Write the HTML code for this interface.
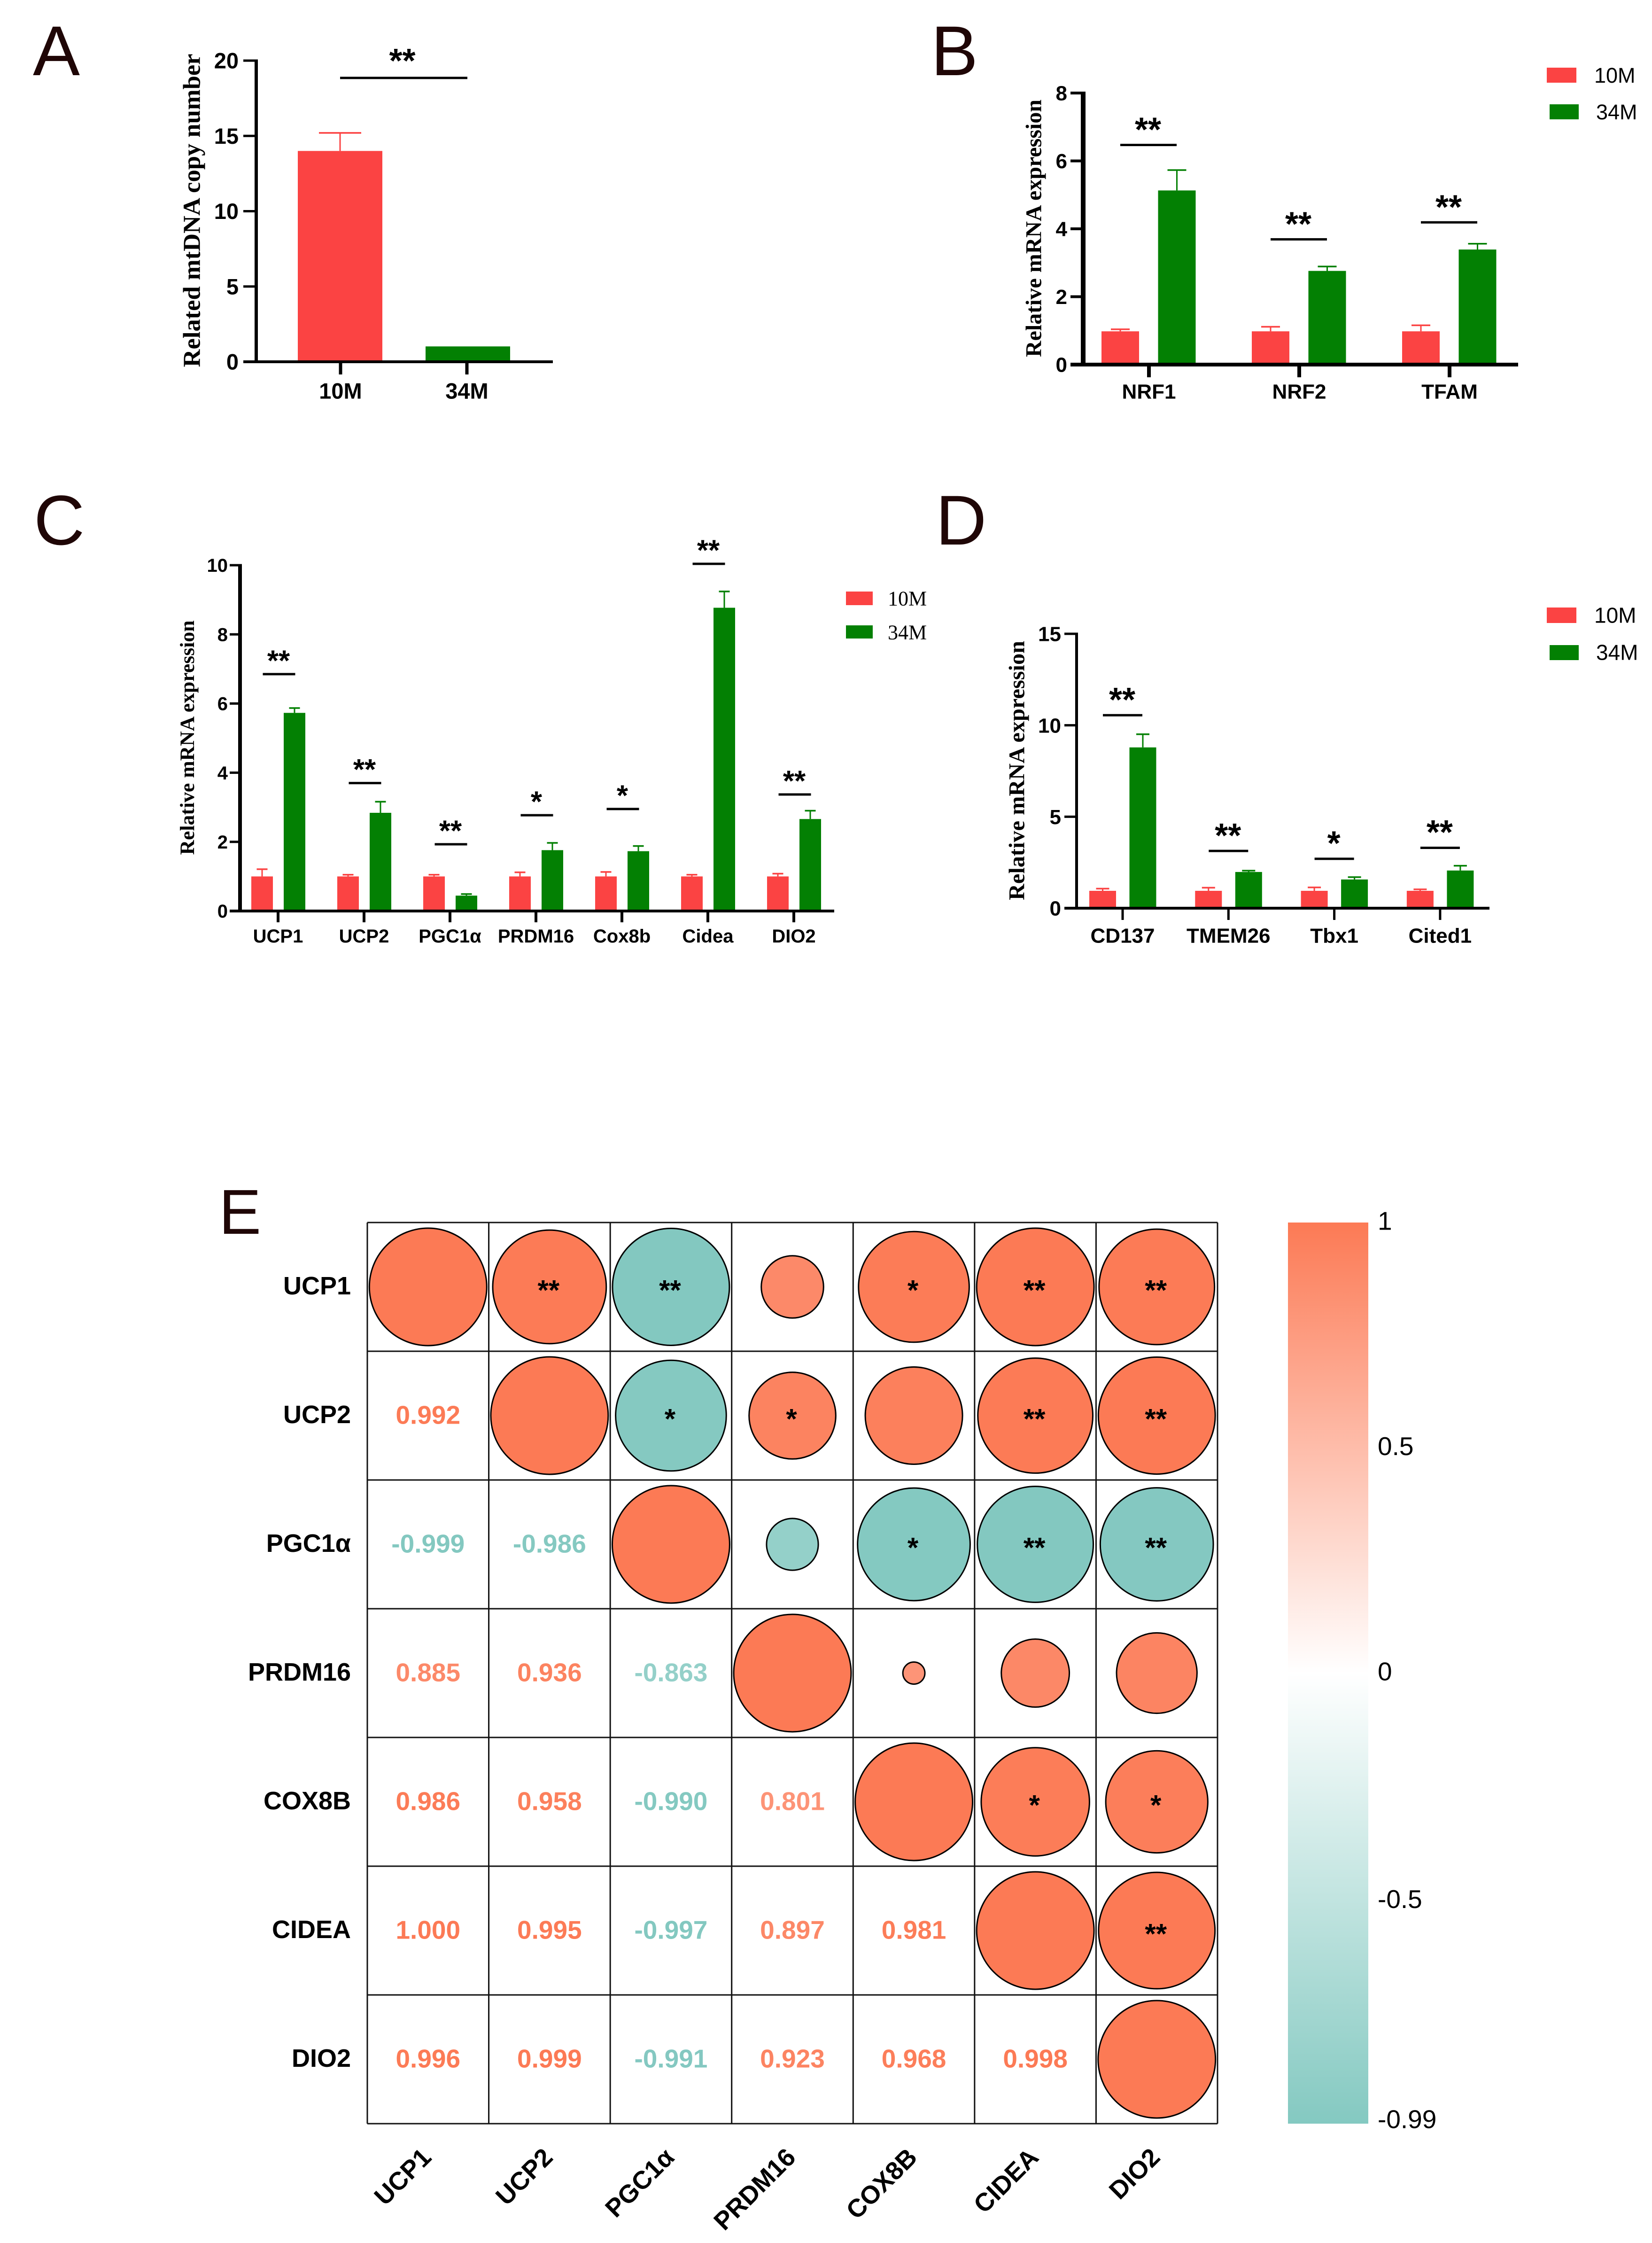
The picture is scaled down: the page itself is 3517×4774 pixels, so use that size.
<!DOCTYPE html>
<html lang="en">
<head>
<meta charset="utf-8">
<title>Panels A-E: mRNA expression and correlation matrix</title>
<style>
html,body{margin:0;padding:0;background:#fff;}
svg{display:block;}
text{font-family:"Liberation Sans",sans-serif;}
</style>
</head>
<body>
<svg id="figure" xmlns="http://www.w3.org/2000/svg" width="3517" height="4774" viewBox="0 0 3517 4774"></svg>
<script>
// ---------- Panel A data ----------
const aCategories = ['10M', '34M'];
const aRedValues = [14.0, null];
const aRedTops = [15.2, null];
const aGreenValues = [null, 1.02];
const aGreenTops = [null, null];
const aYTicks = [0, 5, 10, 15, 20];
const aSigLevels = [18.85];
const aSigPositions = [0.5];
const aSigMarks = ['**'];

// ---------- Panel B data ----------
const bCategories = ['NRF1', 'NRF2', 'TFAM'];
const bRedValues = [0.98, 0.98, 0.98];
const bRedTops = [1.04, 1.115, 1.157];
const bGreenValues = [5.13, 2.76, 3.39];
const bGreenTops = [5.73, 2.89, 3.56];
const bYTicks = [0, 2, 4, 6, 8];
const bSigLevels = [6.47, 3.69, 4.19];
const bSigPositions = [0, 1, 2];
const bSigMarks = ['**', '**', '**'];

// ---------- Panel C data ----------
const cCategories = ['UCP1', 'UCP2', 'PGC1α', 'PRDM16', 'Cox8b', 'Cidea', 'DIO2'];
const cRedValues = [1, 1, 1, 1, 1, 1, 1];
const cRedTops = [1.21, 1.05, 1.05, 1.12, 1.13, 1.05, 1.08];
const cGreenValues = [5.73, 2.84, 0.445, 1.76, 1.73, 8.77, 2.66];
const cGreenTops = [5.87, 3.16, 0.49, 1.97, 1.88, 9.24, 2.9];
const cYTicks = [0, 2, 4, 6, 8, 10];
const cSigLevels = [6.85, 3.70, 1.93, 2.77, 2.95, 10.04, 3.37];
const cSigPositions = [0, 1, 2, 3, 4, 5, 6];
const cSigMarks = ['**', '**', '**', '*', '*', '**', '**'];

// ---------- Panel D data ----------
const dCategories = ['CD137', 'TMEM26', 'Tbx1', 'Cited1'];
const dRedValues = [0.95, 0.95, 0.95, 0.95];
const dRedTops = [1.07, 1.12, 1.135, 1.03];
const dGreenValues = [8.79, 1.98, 1.57, 2.06];
const dGreenTops = [9.51, 2.05, 1.70, 2.32];
const dYTicks = [0, 5, 10, 15];
const dSigLevels = [10.55, 3.13, 2.70, 3.30];
const dSigPositions = [0, 1, 2, 3];
const dSigMarks = ['**', '**', '*', '**'];

const legendLabels = ['10M', '34M'];

// ---------- Panel E data ----------
const corrLabels = ['UCP1', 'UCP2', 'PGC1α', 'PRDM16', 'COX8B', 'CIDEA', 'DIO2'];
const corrRow1 = [1];
const corrRow2 = [0.992, 1];
const corrRow3 = [-0.999, -0.986, 1];
const corrRow4 = [0.885, 0.936, -0.863, 1];
const corrRow5 = [0.986, 0.958, -0.990, 0.801, 1];
const corrRow6 = [1.000, 0.995, -0.997, 0.897, 0.981, 1];
const corrRow7 = [0.996, 0.999, -0.991, 0.923, 0.968, 0.998, 1];
const corrRows = [corrRow1, corrRow2, corrRow3, corrRow4, corrRow5, corrRow6, corrRow7];
const starRow1 = ['', '**', '**', '', '*', '**', '**'];
const starRow2 = ['', '', '*', '*', '', '**', '**'];
const starRow3 = ['', '', '', '', '*', '**', '**'];
const starRow4 = ['', '', '', '', '', '', ''];
const starRow5 = ['', '', '', '', '', '*', '*'];
const starRow6 = ['', '', '', '', '', '', '**'];
const starRow7 = ['', '', '', '', '', '', ''];
const starRows = [starRow1, starRow2, starRow3, starRow4, starRow5, starRow6, starRow7];
const colorbarTicks = [1, 0.5, 0, -0.5, -0.99];

// ---------- helpers ----------
const NS = 'http://www.w3.org/2000/svg';
const root = document.getElementById('figure');
const RED = '#FB4343';
const GREEN = '#038003';

function slug(s) {
  return String(s).toLowerCase().replace(/α/g, 'a').replace(/[^a-z0-9]+/g, '-').replace(/^-|-$/g, '');
}
function mk(tag, name, attrs, parent) {
  const el = document.createElementNS(NS, tag);
  
  
  for (const k in attrs) { el.setAttribute(k, attrs[k]); }
  (parent || root).appendChild(el);
  return el;
}
function rect(name, x1, y1, x2, y2, fill, parent) {
  return mk('rect', name, {x: x1, y: y1, width: x2 - x1, height: y2 - y1, fill: fill}, parent);
}
function label(name, str, x, yc, size, opts, parent) {
  const o = opts || {};
  const attrs = {
    x: x,
    y: yc + size * 0.355,
    'font-size': size,
    'font-weight': o.weight || 'bold',
    'text-anchor': o.anchor || 'middle',
    fill: o.fill || '#000'
  };
  if (o.family) { attrs['style'] = 'font-family:' + o.family; }
  const t = mk('text', name, attrs, parent);
  t.textContent = str;
  return t;
}
function stars(name, str, xc, yc, size, parent) {
  const t = mk('text', name, {
    x: xc, y: yc + size * 0.46, 'font-size': size, 'font-weight': 'bold',
    'text-anchor': 'middle', fill: '#000'
  }, parent);
  t.textContent = str;
  return t;
}
function panelLetter(str, x, y, size) {
  const t = mk('text', 'panel-letter-' + slug(str), {
    x: x, y: y, 'font-size': size, fill: '#1f0606'
  });
  t.textContent = str;
}

function drawBarPanel(cfg) {
  const g = mk('g', 'panel-' + cfg.id, {});
  const yScale = v => cfg.zeroY - v * (cfg.zeroY - cfg.topY) / cfg.yMax;
  const xScale = i => cfg.firstX + i * cfg.stepX;

  // bars and error bars
  const series = [
    {key: 'red', color: RED, values: cfg.redValues, tops: cfg.redTops, offset: cfg.offsets[0]},
    {key: 'green', color: GREEN, values: cfg.greenValues, tops: cfg.greenTops, offset: cfg.offsets[1]}
  ];
  series.forEach(s => {
    s.values.forEach((v, i) => {
      if (v === null) { return; }
      const cx = xScale(i) + s.offset;
      const catName = slug(cfg.categories[i]);
      rect('bar-' + catName + '-' + s.key, cx - cfg.barW / 2, yScale(v), cx + cfg.barW / 2, cfg.zeroY, s.color, g);
      const top = s.tops[i];
      if (top !== null) {
        mk('line', 'error-stem-' + catName + '-' + s.key, {
          x1: cx, x2: cx, y1: yScale(v), y2: yScale(top), stroke: s.color, 'stroke-width': 3
        }, g);
        mk('line', 'error-cap-' + catName + '-' + s.key, {
          x1: cx - cfg.capW / 2, x2: cx + cfg.capW / 2, y1: yScale(top), y2: yScale(top), stroke: s.color, 'stroke-width': 3.5
        }, g);
      }
    });
  });

  // axes
  rect('y-axis-line', cfg.axisX - cfg.yAxisW / 2, cfg.topY - cfg.tickT / 2, cfg.axisX + cfg.yAxisW / 2, cfg.zeroY, '#000', g);
  rect('x-axis-line', cfg.tickLeft, cfg.zeroY - cfg.xAxisT / 2, cfg.axisEnd, cfg.zeroY + cfg.xAxisT / 2, '#000', g);
  cfg.yTicks.forEach(v => {
    const y = yScale(v);
    rect('y-tick-' + v, cfg.tickLeft, y - cfg.tickT / 2, cfg.axisX, y + cfg.tickT / 2, '#000', g);
    label('y-tick-label-' + v, String(v), cfg.yLabelRight, y, cfg.tickFont, {anchor: 'end'}, g);
  });
  cfg.categories.forEach((c, i) => {
    const x = xScale(i);
    rect('x-tick-' + slug(c), x - cfg.xTickW / 2, cfg.zeroY, x + cfg.xTickW / 2, cfg.xTickBottom, '#000', g);
    label('x-tick-label-' + slug(c), c, x, cfg.xLabelY, cfg.catFont, {}, g);
  });

  // y-axis title
  const tx = cfg.titleX + cfg.titleFont * 0.3;
  const ty = cfg.titleY;
  const title = mk('text', 'y-axis-title', {
    x: 0, y: 0, transform: 'translate(' + tx + ',' + ty + ') rotate(-90)',
    'font-size': cfg.titleFont, 'font-weight': 'bold', 'text-anchor': 'middle', fill: '#000',
    textLength: cfg.titleLen, lengthAdjust: 'spacingAndGlyphs',
    style: 'font-family:"Liberation Serif",serif'
  }, g);
  title.textContent = cfg.title;

  // significance brackets
  cfg.sigLevels.forEach((v, i) => {
    const cx = xScale(cfg.sigPositions[i]) + cfg.sigShift;
    const y = yScale(v);
    rect('significance-line-' + (i + 1), cx - cfg.sigHalf, y - 2.5, cx + cfg.sigHalf, y + 2.5, '#000', g);
    stars('significance-mark-' + (i + 1), cfg.sigMarks[i], cx + cfg.starShift, y - cfg.starOffset, cfg.starFont, g);
  });

  // legend
  if (cfg.legend) {
    const L = cfg.legend;
    const labelAttrs = {anchor: 'start', weight: 'normal', family: L.family};
    rect('legend-swatch-10m', L.redX[0], L.redY[0], L.redX[1], L.redY[1], RED, g);
    label('legend-label-10m', legendLabels[0], L.textX[0], L.textY[0], L.font, labelAttrs, g);
    rect('legend-swatch-34m', L.greenX[0], L.greenY[0], L.greenX[1], L.greenY[1], GREEN, g);
    label('legend-label-34m', legendLabels[1], L.textX[1], L.textY[1], L.font, labelAttrs, g);
  }
}

// ---------- draw panels ----------
panelLetter('A', 70, 160, 150);
drawBarPanel({
  id: 'a', categories: aCategories, redValues: aRedValues, redTops: aRedTops,
  greenValues: aGreenValues, greenTops: aGreenTops, yTicks: aYTicks, yMax: 20,
  sigLevels: aSigLevels, sigPositions: aSigPositions, sigMarks: aSigMarks,
  zeroY: 770, topY: 129, firstX: 725, stepX: 269, offsets: [-1, 2], barW: 180, capW: 90,
  axisX: 545.5, yAxisW: 7, xAxisT: 6, tickT: 5, tickLeft: 518, axisEnd: 1177,
  xTickW: 7, xTickBottom: 797, xLabelY: 832, yLabelRight: 508, tickFont: 47, catFont: 47,
  title: 'Related mtDNA copy number', titleX: 410, titleY: 448, titleFont: 52, titleLen: 667,
  sigHalf: 135.5, sigShift: 0, starOffset: 45, starShift: -3, starFont: 72
});

panelLetter('B', 1982, 160, 150);
drawBarPanel({
  id: 'b', categories: bCategories, redValues: bRedValues, redTops: bRedTops,
  greenValues: bGreenValues, greenTops: bGreenTops, yTicks: bYTicks, yMax: 8,
  sigLevels: bSigLevels, sigPositions: bSigPositions, sigMarks: bSigMarks,
  zeroY: 776, topY: 198, firstX: 2446, stepX: 320, offsets: [-61, 59.5], barW: 80, capW: 40,
  axisX: 2306, yAxisW: 10, xAxisT: 8, tickT: 6, tickLeft: 2279, axisEnd: 3232,
  xTickW: 8, xTickBottom: 803, xLabelY: 833, yLabelRight: 2272, tickFont: 44, catFont: 44,
  title: 'Relative mRNA expression', titleX: 2202, titleY: 486, titleFont: 48, titleLen: 548,
  sigHalf: 60, sigShift: -1, starOffset: 41, starShift: -1, starFont: 72,
  legend: {redX: [3293, 3356], redY: [144, 176], greenX: [3299, 3361], greenY: [222, 254],
           textX: [3394, 3398], textY: [160, 238], font: 45, family: '"Liberation Sans",sans-serif'}
});

panelLetter('C', 72, 1159, 150);
drawBarPanel({
  id: 'c', categories: cCategories, redValues: cRedValues, redTops: cRedTops,
  greenValues: cGreenValues, greenTops: cGreenTops, yTicks: cYTicks, yMax: 10,
  sigLevels: cSigLevels, sigPositions: cSigPositions, sigMarks: cSigMarks,
  zeroY: 1939, topY: 1203, firstX: 592, stepX: 183, offsets: [-34, 35], barW: 46, capW: 23,
  axisX: 511, yAxisW: 8, xAxisT: 6, tickT: 5, tickLeft: 489, axisEnd: 1776,
  xTickW: 6, xTickBottom: 1963, xLabelY: 1992, yLabelRight: 485, tickFont: 40, catFont: 40,
  title: 'Relative mRNA expression', titleX: 400, titleY: 1570, titleFont: 43.4, titleLen: 499,
  sigHalf: 34.5, sigShift: 2, starOffset: 36, starShift: -1, starFont: 62,
  legend: {redX: [1801, 1858], redY: [1259, 1288], greenX: [1801, 1858], greenY: [1331, 1359],
           textX: [1890, 1890], textY: [1273, 1345], font: 44, family: '"Liberation Serif",serif'}
});

panelLetter('D', 1992, 1159, 150);
drawBarPanel({
  id: 'd', categories: dCategories, redValues: dRedValues, redTops: dRedTops,
  greenValues: dGreenValues, greenTops: dGreenTops, yTicks: dYTicks, yMax: 15,
  sigLevels: dSigLevels, sigPositions: dSigPositions, sigMarks: dSigMarks,
  zeroY: 1933, topY: 1349, firstX: 2390, stepX: 225.3, offsets: [-42.5, 43], barW: 57, capW: 28,
  axisX: 2292, yAxisW: 6, xAxisT: 6, tickT: 5, tickLeft: 2266, axisEnd: 3171,
  xTickW: 5, xTickBottom: 1958, xLabelY: 1991, yLabelRight: 2259, tickFont: 44, catFont: 44,
  title: 'Relative mRNA expression', titleX: 2166, titleY: 1640, titleFont: 48, titleLen: 552,
  sigHalf: 42, sigShift: 0, starOffset: 41.5, starShift: -1, starFont: 72,
  legend: {redX: [3293, 3356], redY: [1293, 1326], greenX: [3299, 3361], greenY: [1373, 1405],
           textX: [3394, 3398], textY: [1309, 1388], font: 46, family: '"Liberation Sans",sans-serif'}
});

// ---------- Panel E ----------
panelLetter('E', 466, 2626, 135);
const E = {left: 782, top: 2602, right: 2592, bottom: 4520};
const eG = mk('g', 'panel-e', {});
const nCorr = corrLabels.length;
const cellX = j => E.left + (E.right - E.left) * j / nCorr;
const cellY = i => E.top + (E.bottom - E.top) * i / nCorr;
const centerX = j => cellX(j + 0.5);
const centerY = i => cellY(i + 0.5);
const radiusScale = v => (Math.abs(v) - 0.755) * 510;
const POS = [252, 122, 85];
const NEG = [131, 200, 192];
function corrColor(v) {
  const t = Math.min(1, Math.abs(v));
  const base = v >= 0 ? POS : NEG;
  const c = base.map(b => Math.round(255 + (b - 255) * t));
  return 'rgb(' + c.join(',') + ')';
}
function corrValue(i, j) {
  return i >= j ? corrRows[i][j] : corrRows[j][i];
}
for (let k = 0; k <= nCorr; k++) {
  mk('line', 'grid-vertical-' + k, {x1: cellX(k), x2: cellX(k), y1: E.top, y2: E.bottom, stroke: '#111', 'stroke-width': 3}, eG);
  mk('line', 'grid-horizontal-' + k, {x1: E.left, x2: E.right, y1: cellY(k), y2: cellY(k), stroke: '#111', 'stroke-width': 3}, eG);
}
for (let i = 0; i < nCorr; i++) {
  label('row-label-' + slug(corrLabels[i]), corrLabels[i], 747, centerY(i) - 3, 54, {anchor: 'end'}, eG);
  const colLabel = mk('text', 'column-label-' + slug(corrLabels[i]), {
    x: 0, y: 0, transform: 'translate(' + (centerX(i) + 10) + ',4595) rotate(-45)',
    'font-size': 54, 'font-weight': 'bold', 'text-anchor': 'end', fill: '#000'
  }, eG);
  colLabel.textContent = corrLabels[i];
  for (let j = 0; j < nCorr; j++) {
    const v = corrValue(i, j);
    const pairName = slug(corrLabels[i]) + '-' + slug(corrLabels[j]);
    if (j >= i) {
      mk('circle', 'corr-circle-' + pairName, {
        cx: centerX(j), cy: centerY(i), r: radiusScale(v),
        fill: corrColor(v), stroke: '#000', 'stroke-width': 3
      }, eG);
      if (starRows[i][j]) {
        stars('corr-significance-' + pairName, starRows[i][j], centerX(j) - 2, centerY(i), 60, eG);
      }
    } else {
      label('corr-value-' + pairName, v.toFixed(3), centerX(j), centerY(i) - 2, 55, {fill: corrColor(v)}, eG);
    }
  }
}

// colorbar
const CB = {x1: 2742, x2: 2913, top: 2602, bottom: 4520, min: -0.99, max: 1};
const defs = mk('defs', 'gradient-defs', {});
const grad = mk('linearGradient', 'colorbar-gradient', {id: 'cbGrad', x1: 0, y1: 0, x2: 0, y2: 1}, defs);
const cbScale = v => v >= 0
  ? CB.top + (CB.max - v) / CB.max * (3561 - CB.top)
  : 3561 + (v / CB.min) * (CB.bottom - 3561);
[CB.max, 0, CB.min].forEach(v => {
  mk('stop', 'colorbar-stop', {
    offset: (cbScale(v) - CB.top) / (CB.bottom - CB.top),
    'stop-color': corrColor(v)
  }, grad);
});
rect('colorbar', CB.x1, CB.top, CB.x2, CB.bottom, 'url(#cbGrad)', eG);
colorbarTicks.forEach(v => {
  label('colorbar-tick-' + slug(String(v)), String(v), 2933, Math.min(cbScale(v) - 4, 4510), 55, {anchor: 'start', weight: 'normal'}, eG);
});
</script>
</body>
</html>
